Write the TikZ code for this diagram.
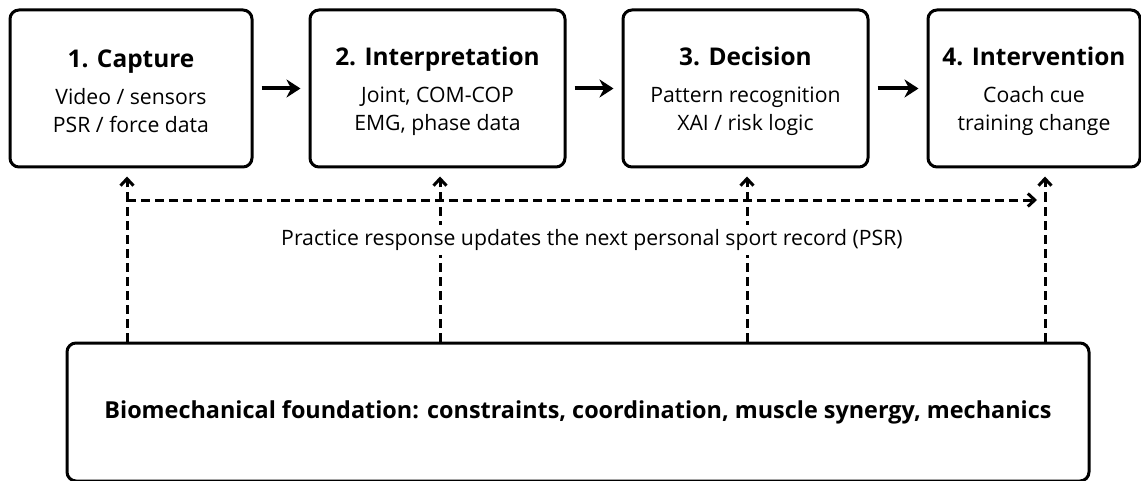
\documentclass[tikz,border=0pt]{standalone}
\usepackage{fontspec}
\setmainfont{Open Sans}
\usetikzlibrary{arrows.meta}

\tikzset{
  stage/.style={draw, line width=1.5pt, rounded corners=4.5pt, minimum height=78.5pt, align=center, inner sep=0pt,
    font=\fontsize{10.6}{14}\selectfont},
  flow/.style={line width=2pt, -{Stealth[length=7pt,width=9pt]}, shorten <=4pt, shorten >=4pt},
  feed/.style={line width=1.5pt, dash pattern=on 4.5pt off 2.5pt, -{Straight Barb[length=3.5pt,width=6.5pt,line width=1.5pt]}}
}
% bold stage heading, with a strut to sit a little lower
\newcommand{\stagetitle}[1]{{\fontsize{12.2}{14}\selectfont\bfseries\rule{0pt}{12pt}#1}\\[4.5pt]}

\begin{document}
\begin{tikzpicture}[x=0.5pt,y=-0.5pt]
\useasboundingbox (0,0) rectangle (1141,481);

\node[stage, minimum width=121pt] (s1) at (131,88.5) {\stagetitle{1. Capture}Video / sensors\\ PSR / force data};
\node[stage, minimum width=127.5pt] (s2) at (437.5,88.5) {\stagetitle{2. Interpretation}Joint, COM-COP\\ EMG, phase data};
\node[stage, minimum width=122.5pt] (s3) at (745.5,88.5) {\stagetitle{3. Decision}Pattern recognition\\ XAI / risk logic};
\node[stage, minimum width=106pt] (s4) at (1034,88.5) {\stagetitle{4. Intervention}Coach cue\\ training change};

\node[draw, line width=1.5pt, rounded corners=4.5pt, minimum width=511pt, minimum height=69pt, font=\fontsize{11.7}{14}\selectfont\bfseries] (base) at (578,412)
  {Biomechanical foundation: constraints, coordination, muscle synergy, mechanics};

\draw[flow] (s1) -- (s2);
\draw[flow] (s2) -- (s3);
\draw[flow] (s3) -- (s4);

% feedback taps from the foundation
\draw[feed, shorten >=4pt] (base.north -| 127,0) -- (s1.south -| 127,0);
\draw[feed, shorten >=4pt] (base.north -| 440,0) -- (s2.south -| 440,0);
\draw[feed, shorten >=4pt] (base.north -| 747,0) -- (s3.south -| 747,0);
\draw[feed, shorten >=4pt] (base.north -| 1045,0) -- (s4.south -| 1045,0);

\coordinate (loopL) at (127,200);
\coordinate (loopR) at (1037,200);
\draw[feed] (loopL) -- (loopR);

\node[fill=white, inner sep=2pt, font=\fontsize{10.6}{13}\selectfont] (note) at (592,240)
  {Practice response updates the next personal sport record (PSR)};
\end{tikzpicture}
\end{document}
